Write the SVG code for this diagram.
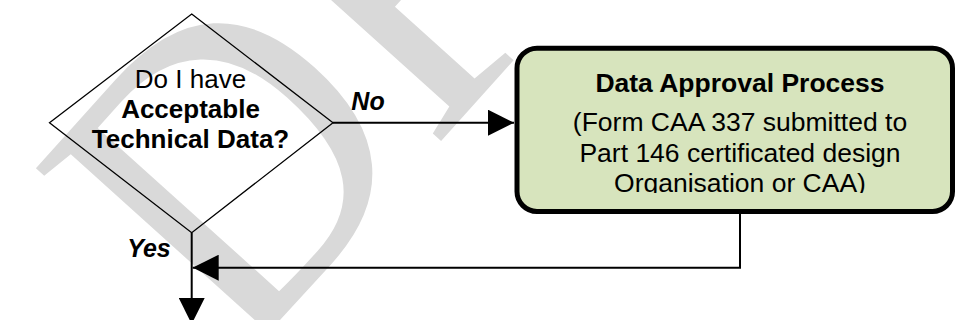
<svg xmlns="http://www.w3.org/2000/svg" width="957" height="320" viewBox="0 0 957 320">
  <style>
    .t { font-family: "Liberation Sans", Arial, sans-serif; fill: #000; text-anchor: middle; }
    .b { font-weight: bold; }
    .bi { font-weight: bold; font-style: italic; }
    .line { stroke: #000; stroke-width: 2; fill: none; }
    .wm { font-family: "Liberation Serif", "Times New Roman", serif; fill: #d9d9d9; }
  </style>
  <defs>
    <marker id="arr" viewBox="0 0 26 26" refX="26" refY="13" markerWidth="26" markerHeight="26" markerUnits="userSpaceOnUse" orient="auto">
      <path d="M0,0 L26,13 L0,26 Z" fill="#000"/>
    </marker>
    <clipPath id="boxclip">
      <rect x="520" y="50" width="430" height="143"/>
    </clipPath>
  </defs>
  <rect x="0" y="0" width="957" height="320" fill="#fff"/>
  <g id="watermark">
    <text class="wm" x="0" y="0" font-size="400" transform="translate(238.4,366) rotate(-48) scale(1,1.08)">DRAFT</text>
  </g>
  <g id="connectors">
    <line class="line" x1="333" y1="122.7" x2="514" y2="122.7" marker-end="url(#arr)"/>
    <polyline class="line" points="740,212 740,267.7 192.7,267.7" marker-end="url(#arr)"/>
    <line class="line" x1="191.7" y1="232.7" x2="191.7" y2="324" marker-end="url(#arr)"/>
    <text class="t bi" x="368" y="110" font-size="25">No</text>
    <text class="t bi" x="149" y="256.7" font-size="25">Yes</text>
  </g>
  <g id="decision">
    <polygon points="191.7,14 333,122.7 191.7,232.7 49.5,122.7" fill="none" stroke="#000" stroke-width="1.3"/>
    <text class="t" x="190.5" y="88.3" font-size="26">Do I have</text>
    <text class="t b" x="190.5" y="118.3" font-size="26">Acceptable</text>
    <text class="t b" x="190.5" y="148.3" font-size="26">Technical Data?</text>
  </g>
  <g id="process">
    <rect x="517" y="48.2" width="435.5" height="163.3" rx="20" ry="20" fill="#d7e4bd" stroke="#000" stroke-width="5"/>
    <g clip-path="url(#boxclip)">
      <text class="t b" x="740" y="91.7" font-size="26.5">Data Approval Process</text>
      <text class="t" x="740" y="130.7" font-size="26.5">(Form CAA 337 submitted to</text>
      <text class="t" x="740" y="161.5" font-size="26.5">Part 146 certificated design</text>
      <text class="t" x="740" y="192" font-size="26.5">Organisation or CAA)</text>
    </g>
  </g>
</svg>
